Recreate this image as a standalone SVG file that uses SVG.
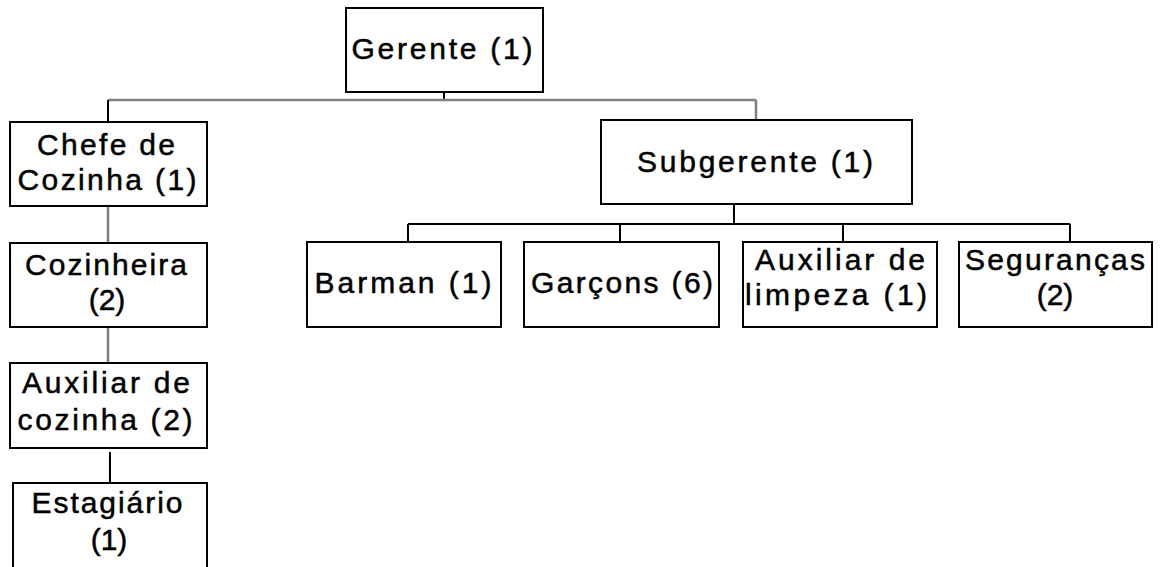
<svg xmlns="http://www.w3.org/2000/svg" width="1160" height="567" viewBox="0 0 1160 567">
<style>
.box{fill:#fff;stroke:#000;stroke-width:2}
.t{font-family:"Liberation Sans",Arial,sans-serif;font-size:30px;fill:#000;stroke:#000;stroke-width:0.5;text-anchor:middle}
.c{fill:none;stroke:#000;stroke-width:2}
.g{fill:none;stroke:#7f7f7f;stroke-width:2.5}
</style>
<rect width="1160" height="567" fill="#fff"/>
<g id="connectors">
<path class="c" d="M444 92V100"/>
<path class="g" d="M108 100H756"/>
<path class="c" d="M108 100V122"/>
<path class="g" d="M756 100V120"/>
<path class="g" d="M108 206V243"/>
<path class="g" d="M108 327V363"/>
<path class="c" d="M110 452V483"/>
<path class="c" d="M734 204V224M408 224H1070M408 224V242M620 224V242M843 224V242M1070 224V242"/>
</g>
<g id="gerente"><rect class="box" x="346" y="8" width="197" height="84"/><text class="t" x="442" y="59" textLength="181">Gerente (1)</text></g>
<g id="chefe"><rect class="box" x="10" y="122" width="197" height="84"/><text class="t" x="106" y="155" textLength="138">Chefe de</text><text class="t" x="107" y="190" textLength="179">Cozinha (1)</text></g>
<g id="cozinheira"><rect class="box" x="10" y="243" width="197" height="84"/><text class="t" x="106" y="275" textLength="162">Cozinheira</text><text class="t" x="107" y="310">(2)</text></g>
<g id="auxcozinha"><rect class="box" x="10" y="363" width="197" height="85"/><text class="t" x="106" y="393" textLength="168">Auxiliar de</text><text class="t" x="105" y="430" textLength="175">cozinha (2)</text></g>
<g id="estagiario"><rect class="box" x="13" y="483" width="194" height="100"/><text class="t" x="107" y="513" textLength="151">Estagiário</text><text class="t" x="109" y="550">(1)</text></g>
<g id="subgerente"><rect class="box" x="601" y="120" width="311" height="84"/><text class="t" x="755" y="172" textLength="236">Subgerente (1)</text></g>
<g id="barman"><rect class="box" x="307" y="242" width="194" height="85"/><text class="t" x="403" y="293" textLength="177">Barman (1)</text></g>
<g id="garcons"><rect class="box" x="524" y="242" width="195" height="85"/><text class="t" x="622" y="293" textLength="182">Garçons (6)</text></g>
<g id="auxlimpeza"><rect class="box" x="743" y="242" width="194" height="85"/><text class="t" x="840" y="270" textLength="170">Auxiliar de</text><text class="t" x="836" y="305" textLength="182">limpeza (1)</text></g>
<g id="segurancas"><rect class="box" x="959" y="242" width="193" height="85"/><text class="t" x="1055" y="270" textLength="180">Seguranças</text><text class="t" x="1055" y="305">(2)</text></g>
</svg>
